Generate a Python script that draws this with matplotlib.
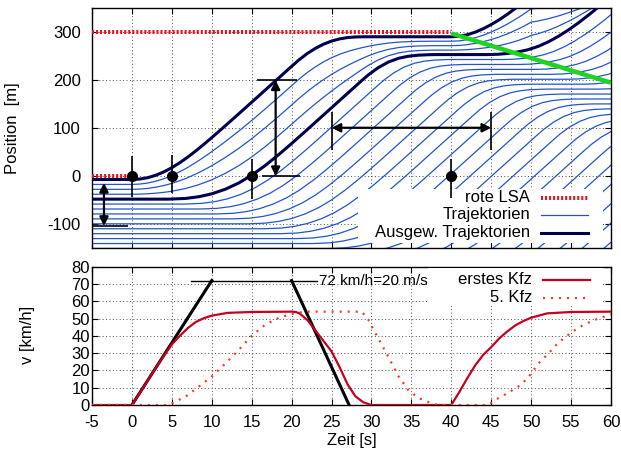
import numpy as np
import matplotlib
matplotlib.use("Agg")
import matplotlib.pyplot as plt
from matplotlib.patches import Rectangle

plt.rcParams['font.family'] = ['Liberation Sans', 'DejaVu Sans']
plt.rcParams['font.size'] = 12
plt.rcParams['axes.unicode_minus'] = False

# ---------------- data ----------------
# lower panel: speed of first vehicle (km/h)
t_v1 = [-5, 0, 1, 2, 3, 4, 5, 6, 7, 8, 9, 10, 12, 15, 20, 20.5, 21, 22, 23, 24, 25,
        26, 27, 28, 29, 30, 40, 41, 42, 43, 44, 45, 46, 47, 48, 49, 50, 52, 55, 60]
v_v1 = [0, 0, 7, 14.4, 21.5, 28.5, 35, 40, 44.5, 48, 50.2, 51.7, 53.3, 53.8, 54, 53.8, 53,
        49, 43, 37, 31, 22, 12, 5, 1.5, 0, 0, 7.5, 15.5, 23, 29, 33.5, 38.5, 42.5, 46, 48.5,
        50.5, 53, 53.8, 54]
# lower panel: speed of 5th vehicle (km/h)
t_v5 = [-5, 4.6, 6.7, 8.4, 10, 11.7, 13.4, 15, 16.7, 18.4, 20, 21.7, 28.8, 29.6, 30.8,
        32.1, 33.4, 34.6, 35.9, 37.5, 38.3, 44.6, 45.9, 47.1, 48.4, 49.6, 50.9, 52.2,
        53.4, 54.7, 55.9, 57.2, 58.4, 59.7, 60]
v_v5 = [0, 0, 4.8, 10.7, 16.5, 24, 32, 40, 46.5, 50.4, 52.7, 54, 54, 49.4, 39, 28, 16.5,
        8.7, 4, 1, 0, 0, 4, 7, 10.7, 15.6, 24, 30, 36, 40.7, 44.7, 47.7, 50, 52, 52.5]

# upper panel: position of the first vehicle (m)
t_x1 = [-5, 0, 1, 2, 3, 4, 5, 6, 7, 8, 9, 10, 11, 12, 13, 14, 15, 16, 17, 18, 19, 20,
        20.5, 21, 22, 23, 24, 25, 26, 27, 28, 29, 40, 41, 42, 43, 44, 45, 46, 47, 48, 49, 50]
x_x1 = [-7, -7, -6, -3.1, 1.9, 8.9, 17.7, 28.1, 39.8, 52.7, 66.3, 80.5, 95, 109.7, 124.5,
        139.4, 154.3, 169.3, 184.3, 199.2, 214.2, 229.2, 236.6, 243.8, 256.5, 267, 275.5,
        282, 286.5, 289.3, 290.6, 291, 291, 292, 295.2, 300.6, 307.8, 316.5, 326.5, 337.7,
        350, 363, 377]
# upper panel: position of the 5th vehicle (m)
t_x5 = [-5, 4.6, 6.7, 8.4, 10, 11.7, 13.4, 15, 16.7, 18.4, 20, 21.7, 28.8, 29.6, 30.8,
        32.1, 33.4, 34.6, 35.9, 37.5, 38.3, 44.6, 45.9, 47.1, 48.4, 49.6, 50.9, 52.2,
        53.4, 54.7, 55.9, 57.2, 58.4, 60]
x_x5 = [-48, -48, -46.6, -42.9, -36.9, -27.3, -14.1, 1.9, 22.3, 45.2, 68.1, 93.3, 199.8,
        211.3, 226.0, 238.1, 246.1, 250.3, 252.6, 253.7, 253.8, 253.8, 254.5, 256.3, 259.5,
        263.9, 271.0, 280.8, 291.8, 305.6, 319.8, 336.5, 352.8, 374]

# other vehicles: queue spacing (m) and delay per vehicle (s), vehicle numbers
queue_gap = 10.3
delay = 2.0
blend_cars = [1, 2, 3]
follow_cars = list(range(5, 25))

# red traffic lights (LSA)
lsa1_t, lsa1_x = [-5, 0], [0, 0]
lsa2_t, lsa2_x = [-5, 40], [300, 300]
# green line (queue dissolving)
green_t, green_x = [40, 60], [298, 195]

# markers with bars
dot_t = [0, 5, 15, 40]
dot_x = [0, 0, 0, 0]
bar_lo = [-44, -36, -48, -46]
bar_hi = [42, 44, 36, 35]

# black acceleration / deceleration lines, lower panel
acc_t, acc_v = [0, 10], [0, 72]
dec_t, dec_v = [20, 27.2], [72, 0]
ref_t, ref_v = [7.4, 23.2], [72, 72]

# ---------------- figure ----------------
fig = plt.figure(figsize=(6.21, 4.55), dpi=100)
ax1 = fig.add_axes([92 / 621, 1 - 248 / 455, 519 / 621, 239.5 / 455])
ax2 = fig.add_axes([92 / 621, 1 - 405 / 455, 519 / 621, 138.3 / 455])

grid_kw = dict(color='0.3', linestyle=(0, (1, 2.5)), linewidth=0.7)
for ax in (ax1, ax2):
    ax.set_xlim(-5, 60)
    ax.set_xticks(np.arange(-5, 61, 5))
    ax.grid(True, **grid_kw)
    ax.set_axisbelow(True)
    ax.tick_params(direction='in', top=True, right=True, length=4, width=0.8,
                   labelsize=12)
    for s in ax.spines.values():
        s.set_linewidth(1.0)

blue = '#2255cc'
navy = '#000050'

# blend vehicles between first and 5th
tt = np.union1d(t_x1, t_x5)
x1i = np.interp(tt, t_x1, x_x1)
x5i = np.interp(tt, t_x5, x_x5)
for k in blend_cars:
    w = k / 4.0
    ax1.plot(tt, (1 - w) * x1i + w * x5i, color=blue, lw=0.9, zorder=2)
# following vehicles: shifted versions of the 5th
t5 = np.array(t_x5, float)
x5 = np.array(x_x5, float)
for k in follow_cars:
    n = k - 4
    ts = t5 + n * delay
    ts[0] = -5
    ax1.plot(ts, x5 - n * queue_gap, color=blue, lw=0.9, zorder=2)

ax1.plot(t_x1, x_x1, color=navy, lw=2.2, zorder=3)
ax1.plot(t_x5, x_x5, color=navy, lw=2.2, zorder=3)

lsa_kw = dict(color='#e8101a', lw=2.9, linestyle=(0, (0.5, 0.5)), zorder=4)
ax1.plot(lsa1_t, lsa1_x, **lsa_kw)
ax1.plot(lsa2_t, lsa2_x, **lsa_kw)
ax1.plot(green_t, green_x, color='#1ed41e', lw=3.2, zorder=4, solid_capstyle='butt')

# annotations
ax1.vlines(dot_t, bar_lo, bar_hi, color='k', lw=1.2, zorder=7)
ax1.plot(dot_t, dot_x, 'o', color='k', ms=7, zorder=7)

arr = dict(arrowstyle='<|-|>', color='k', lw=1.6, mutation_scale=13,
           shrinkA=0, shrinkB=0)
ax1.annotate('', xy=(-3.5, -104), xytext=(-3.5, -14), arrowprops=arr, zorder=7)
ax1.hlines(-104, -5, -0.5, color='k', lw=1.2, zorder=7)
ax1.annotate('', xy=(18, 0), xytext=(18, 200), arrowprops=arr, zorder=7)
ax1.hlines(200, 15.7, 20.7, color='k', lw=1.2, zorder=7)
ax1.hlines(0, 16.3, 21, color='k', lw=1.2, zorder=7)
ax1.annotate('', xy=(25, 101), xytext=(45, 101), arrowprops=arr, zorder=7)
ax1.vlines([25, 45], 55, 134, color='k', lw=1.2, zorder=7)

ax1.set_ylim(-150, 350)
ax1.set_yticks([-100, 0, 100, 200, 300])
ax1.tick_params(axis='x', labelbottom=False)
ax1.tick_params(axis='y', pad=8)
ax1.set_ylabel('Position  [m]', fontsize=12)
ax1.yaxis.set_label_coords(-0.139, 0.5)

# top legend (opaque key)
ax1.add_patch(Rectangle((0.513, 0.02), 0.472, 0.226, transform=ax1.transAxes,
                        facecolor='white', edgecolor='none', zorder=5))
rows = [0.209, 0.138, 0.063]
labels = ['rote LSA', 'Trajektorien', 'Ausgew. Trajektorien']
styles = [lsa_kw, dict(color=blue, lw=0.9), dict(color=navy, lw=2.2)]
for y, lab, st in zip(rows, labels, styles):
    ax1.text(0.844, y, lab, transform=ax1.transAxes, ha='right', va='center',
             fontsize=12, zorder=6)
    st = dict(st)
    st['zorder'] = 6
    ax1.plot([0.865, 0.956], [y, y], transform=ax1.transAxes, **st)

# lower panel
ax2.plot(acc_t, acc_v, color='k', lw=2.2, zorder=3)
ax2.plot(dec_t, dec_v, color='k', lw=2.2, zorder=3)
ax2.plot(ref_t, ref_v, color='k', lw=1.0, zorder=3)
ax2.text(23.4, 72, '72 km/h=20 m/s', fontsize=11, ha='left', va='center', zorder=6)
ax2.plot(t_v1, v_v1, color='#c8001e', lw=1.6, zorder=4)
ax2.plot(t_v5, v_v5, color='#ff3322', lw=1.6, linestyle=(0, (0.9, 2.7)), zorder=4)

ax2.set_ylim(0, 80)
ax2.set_yticks(np.arange(0, 81, 10))
ax2.tick_params(axis='y', pad=1.5)
ax2.tick_params(axis='x', pad=7)
ax2.set_ylabel('v [km/h]', fontsize=12)
ax2.yaxis.set_label_coords(-0.11, 0.506)
ax2.set_xlabel('Zeit [s]', fontsize=12)
ax2.xaxis.set_label_coords(0.501, -0.2)

ax2.add_patch(Rectangle((0.647, 0.716), 0.338, 0.274, transform=ax2.transAxes,
                        facecolor='white', edgecolor='none', zorder=5))
rows2 = [0.904, 0.774]
labels2 = ['erstes Kfz', '5. Kfz']
styles2 = [dict(color='#c8001e', lw=1.6),
           dict(color='#ff3322', lw=1.6, linestyle=(0, (0.9, 2.7)))]
for y, lab, st in zip(rows2, labels2, styles2):
    ax2.text(0.848, y, lab, transform=ax2.transAxes, ha='right', va='center',
             fontsize=12, zorder=6)
    ax2.plot([0.869, 0.960], [y, y], transform=ax2.transAxes, zorder=6, **st)

fig.savefig('out.png', dpi=100)
